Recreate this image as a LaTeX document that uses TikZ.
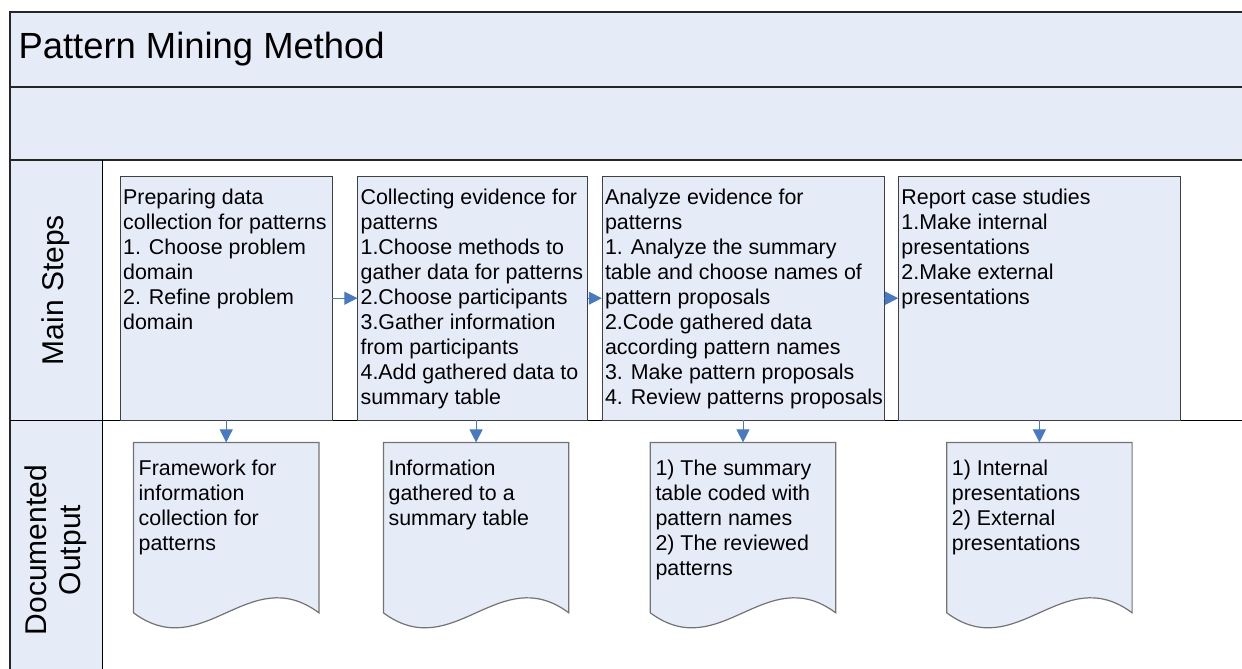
\documentclass[tikz,border=0pt]{standalone}
\usepackage{fontspec}
\setmainfont{Liberation Sans}
\usetikzlibrary{positioning,arrows.meta,backgrounds}
\definecolor{paneblue}{RGB}{230,236,247}
\definecolor{flowblue}{RGB}{72,122,196}
\newcommand{\bodyfont}{\fontsize{21.4}{25}\selectfont}
\newcommand{\steptext}[2]{\parbox[t][244pt][t]{#1}{\vspace*{11pt}%
\begin{tabular}{@{}l@{}}#2\end{tabular}}}
\newcommand{\doctext}[1]{\parbox[t][170pt][t]{175pt}{\vspace*{15pt}%
\begin{tabular}{@{}l@{}}#1\end{tabular}}}
\tikzset{
    lane/.style={ % pool and lane borders
        draw=black!85,
        line width=1.2pt
        },
    band/.style={
        fill=paneblue
        },
    stepbox/.style={
        rectangle,
        draw=black!75,
        fill=paneblue,
        inner xsep=3pt,
        inner ysep=0pt,
        font=\bodyfont
        },
    docbox/.style={ % text part of a document
        rectangle,
        inner xsep=5pt,
        inner ysep=0pt,
        font=\bodyfont
        },
    docline/.style={ % wavy document outline
        draw=black!55,
        fill=paneblue,
        line width=1.2pt
        },
    flow/.style={
        draw=flowblue,
        line width=1pt,
        -{Triangle[length=13pt,width=13pt]}
        },
    lanelabel/.style={
        rotate=90,
        align=center,
        font=\fontsize{30}{34}\selectfont
        }
}
\begin{document}
\begin{tikzpicture}[x=1pt,y=-1pt]
\useasboundingbox (0,0) rectangle (1242,669);
\clip (0,0) rectangle (1242,669);

%%%%% pool and lanes
\fill[band] (10,12) rectangle (1250,160);
\fill[band] (10,160) rectangle (102,700);
\draw[lane] (1250,12) -- (10,12) -- (10,700);
\draw[lane] (10,87) -- (1250,87);
\draw[lane] (10,160) -- (1250,160);
\draw[lane, line width=0.8pt, draw=black] (10,420) -- (1250,420);
\draw[lane, line width=0.8pt, draw=black] (102,160) -- (102,700);

\node[anchor=base west, font=\fontsize{36.4}{40}\selectfont] (title) at (15,59) {Pattern Mining Method};
\node[lanelabel] (lmain) at (56,290) {Main Steps};
\node[lanelabel] (ldoc) at (56,550) {Documented\\Output};

%%%%% main steps
\node[stepbox, anchor=north west] (s1) at (120,176) {\steptext{206pt}{
Preparing data\\collection for patterns\\1. Choose problem\\domain\\2. Refine problem\\domain}};
\node[stepbox, right=25pt of s1] (s2) {\steptext{224pt}{
Collecting evidence for\\patterns\\1.Choose methods to\\gather data for patterns\\2.Choose participants\\3.Gather information\\from participants\\4.Add gathered data to\\summary table}};
\node[stepbox, right=14pt of s2] (s3) {\steptext{276pt}{
Analyze evidence for\\patterns\\1. Analyze the summary\\table and choose names of\\pattern proposals\\2.Code gathered data\\according pattern names\\3. Make pattern proposals\\4. Review patterns proposals}};
\node[stepbox, right=14pt of s3] (s4) {\steptext{276pt}{
Report case studies\\1.Make internal\\presentations\\2.Make external\\presentations}};

%%%%% documented output
\node[docbox, below=22pt of s1] (d1) {\doctext{Framework for\\information\\collection for\\patterns}};
\node[docbox, below=22pt of s2, xshift=3.5pt] (d2) {\doctext{Information\\gathered to a\\summary table}};
\node[docbox, below=22pt of s3] (d3) {\doctext{1) The summary\\table coded with\\pattern names\\2) The reviewed\\patterns}};
\node[docbox, below=22pt of s4] (d4) {\doctext{1) Internal\\presentations\\2) External\\presentations}};

\begin{scope}[on background layer]
\foreach \d in {d1,d2,d3,d4}
  \draw[docline] (\d.north west) -- (\d.north east) -- (\d.south east)
    .. controls +(-70,-52) and +(70,52) .. (\d.south west) -- cycle;
\end{scope}

%%%%% flows
\draw[flow] (s1) -- (s2);
\draw[flow] (s2) -- (s3);
\draw[flow] (s3) -- (s4);
\foreach \i in {1,...,4}
  \draw[flow] (d\i.north |- s\i.south) -- (d\i.north);

\end{tikzpicture}
\end{document}
